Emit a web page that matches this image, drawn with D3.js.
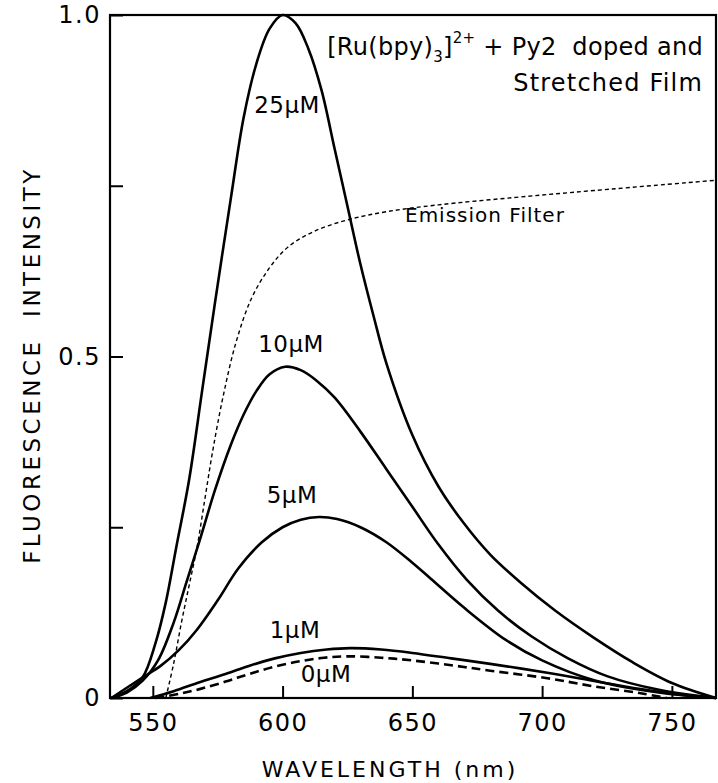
<!DOCTYPE html>
<html>
<head>
<meta charset="utf-8">
<script src="https://cdn.jsdelivr.net/npm/d3@7"></script>
<style>
  html, body { margin: 0; padding: 0; background: #fff; }
  svg { display: block; }
  text { font-family: "DejaVu Sans", "Liberation Sans", sans-serif; fill: #000; white-space: pre; }
</style>
</head>
<body>
<svg id="chart" width="718" height="783"></svg>
<script>
// ---- data (wavelength nm, relative intensity) ----
const wl25 = [534, 540, 546, 551, 555, 559, 564, 569, 574, 580, 585, 590, 595, 600, 605, 610, 615, 620, 625, 630, 635, 640, 650, 660, 670, 680, 692, 705, 720, 735, 750, 767];
const int25 = [0, 0.01, 0.03, 0.08, 0.14, 0.22, 0.32, 0.45, 0.58, 0.73, 0.85, 0.93, 0.98, 1.0, 0.988, 0.95, 0.89, 0.805, 0.72, 0.635, 0.56, 0.49, 0.385, 0.31, 0.255, 0.21, 0.168, 0.128, 0.088, 0.052, 0.022, 0];

const wl10 = [534, 540, 546, 552, 558, 563, 568, 574, 580, 585, 590, 595, 601, 607, 613, 620, 630, 640, 650, 660, 671, 683, 696, 710, 725, 745, 767];
const int10 = [0, 0.008, 0.025, 0.055, 0.11, 0.17, 0.23, 0.305, 0.37, 0.415, 0.45, 0.474, 0.485, 0.48, 0.465, 0.44, 0.39, 0.335, 0.28, 0.225, 0.173, 0.128, 0.09, 0.058, 0.032, 0.012, 0];

const wl5 = [534, 546, 553, 560, 567, 575, 583, 592, 600, 607, 614, 621, 630, 640, 650, 657, 670, 686, 700, 720, 745, 767];
const int5 = [0, 0.03, 0.047, 0.07, 0.1, 0.143, 0.19, 0.228, 0.25, 0.261, 0.265, 0.262, 0.25, 0.228, 0.198, 0.175, 0.132, 0.085, 0.055, 0.026, 0.008, 0];

const wl1 = [549, 558, 568, 578, 587, 597, 607, 617, 626, 638, 650, 665, 680, 702, 720, 738, 755, 767];
const int1 = [0, 0.01, 0.023, 0.035, 0.047, 0.058, 0.066, 0.071, 0.073, 0.071, 0.066, 0.058, 0.05, 0.037, 0.025, 0.013, 0.004, 0];

const wl0 = [551, 560, 568, 578, 587, 597, 607, 616, 625, 638, 650, 665, 680, 702, 720, 738, 748];
const int0 = [0, 0.006, 0.013, 0.024, 0.035, 0.046, 0.054, 0.059, 0.061, 0.059, 0.055, 0.048, 0.04, 0.029, 0.017, 0.007, 0];

const wlFilter = [555, 558, 561, 564, 567, 570, 573, 577, 582, 588, 595, 602, 612, 625, 640, 660, 690, 720, 767];
const tFilter = [0, 0.05, 0.11, 0.165, 0.22, 0.29, 0.36, 0.44, 0.52, 0.585, 0.63, 0.66, 0.683, 0.7, 0.712, 0.722, 0.733, 0.743, 0.758];

const curveLabels = ["25\u03BCM", "10\u03BCM", "5\u03BCM", "1\u03BCM", "0\u03BCM"];
const xTicks = [550, 600, 650, 700, 750];
const yTicks = [0, 0.25, 0.5, 0.75, 1.0];
const yTickLabels = ["0", "", "0.5", "", "1.0"];

// ---- layout ----
const svg = d3.select("#chart");
const L = 110, R = 716, T = 15, B = 698;
const x = d3.scaleLinear().domain([533.5, 767]).range([L, R]);
const y = d3.scaleLinear().domain([0, 1]).range([B, T]);

const mk = (wl, v) => wl.map((w, i) => [w, v[i]]);
const line = d3.line().x(d => x(d[0])).y(d => Math.min(B, y(d[1]))).curve(d3.curveCatmullRom.alpha(0.5));

// axes
const xAxis = d3.axisBottom(x).tickValues(xTicks).tickSizeInner(-12).tickSizeOuter(0).tickPadding(26).tickFormat(d3.format("d"));
const gx = svg.append("g").attr("transform", `translate(0,${B})`).call(xAxis);
gx.select(".domain").remove();
gx.selectAll(".tick line").attr("stroke", "#000").attr("stroke-width", 2);
gx.selectAll(".tick text").attr("font-size", 24).attr("letter-spacing", 1.5).attr("dy", "0.3em");

const yAxis = d3.axisLeft(y).tickValues(yTicks).tickSizeInner(-13).tickSizeOuter(0).tickPadding(9).tickFormat((d, i) => yTickLabels[i]);
const gy = svg.append("g").attr("transform", `translate(${L},0)`).call(yAxis);
gy.select(".domain").remove();
gy.selectAll(".tick line").attr("stroke", "#000").attr("stroke-width", 2);
gy.selectAll(".tick text").attr("font-size", 24).attr("letter-spacing", 1.5);

// frame
svg.append("rect").attr("x", L).attr("y", T).attr("width", R - L).attr("height", B - T)
  .attr("fill", "none").attr("stroke", "#000").attr("stroke-width", 2.2);

// curves
const solid = [mk(wl25, int25), mk(wl10, int10), mk(wl5, int5), mk(wl1, int1)];
svg.append("g").selectAll("path.s").data(solid).join("path")
  .attr("d", line).attr("fill", "none").attr("stroke", "#000").attr("stroke-width", 2.6);

svg.append("path").attr("d", line(mk(wl0, int0))).attr("fill", "none")
  .attr("stroke", "#000").attr("stroke-width", 2.6).attr("stroke-dasharray", "9,5");

svg.append("path").attr("d", line(mk(wlFilter, tFilter))).attr("fill", "none")
  .attr("stroke", "#000").attr("stroke-width", 1.4).attr("stroke-dasharray", "4,3");

// curve labels
const labelPos = [[287, 113], [291, 352], [292, 503], [295, 638], [326, 682]];
svg.append("g").selectAll("text").data(curveLabels).join("text")
  .attr("x", (d, i) => labelPos[i][0]).attr("y", (d, i) => labelPos[i][1])
  .attr("text-anchor", "middle").attr("font-size", 23).attr("letter-spacing", 0.5).text(d => d);

svg.append("text").attr("x", 405).attr("y", 222).attr("font-size", 20).attr("letter-spacing", 1).text("Emission Filter");

// title
const t1 = svg.append("text").attr("x", 703).attr("y", 55).attr("text-anchor", "end").attr("font-size", 24).attr("letter-spacing", 0.3);
t1.append("tspan").text("[Ru(bpy)");
t1.append("tspan").attr("font-size", 15).attr("dy", 7).text("3");
t1.append("tspan").attr("dy", -7).text("]");
t1.append("tspan").attr("font-size", 15).attr("dy", -12).text("2+");
t1.append("tspan").attr("dy", 12).text(" + Py2  doped and");
svg.append("text").attr("x", 703).attr("y", 91).attr("text-anchor", "end").attr("font-size", 24).attr("letter-spacing", 1.2).text("Stretched Film");

// axis titles
svg.append("text").attr("x", 390).attr("y", 777).attr("text-anchor", "middle")
  .attr("font-size", 22).attr("letter-spacing", 3).text("WAVELENGTH (nm)");
svg.append("text").attr("transform", `translate(40,${365}) rotate(-90)`).attr("text-anchor", "middle")
  .attr("font-size", 23).attr("letter-spacing", 3.5).text("FLUORESCENCE  INTENSITY");
</script>
</body>
</html>
